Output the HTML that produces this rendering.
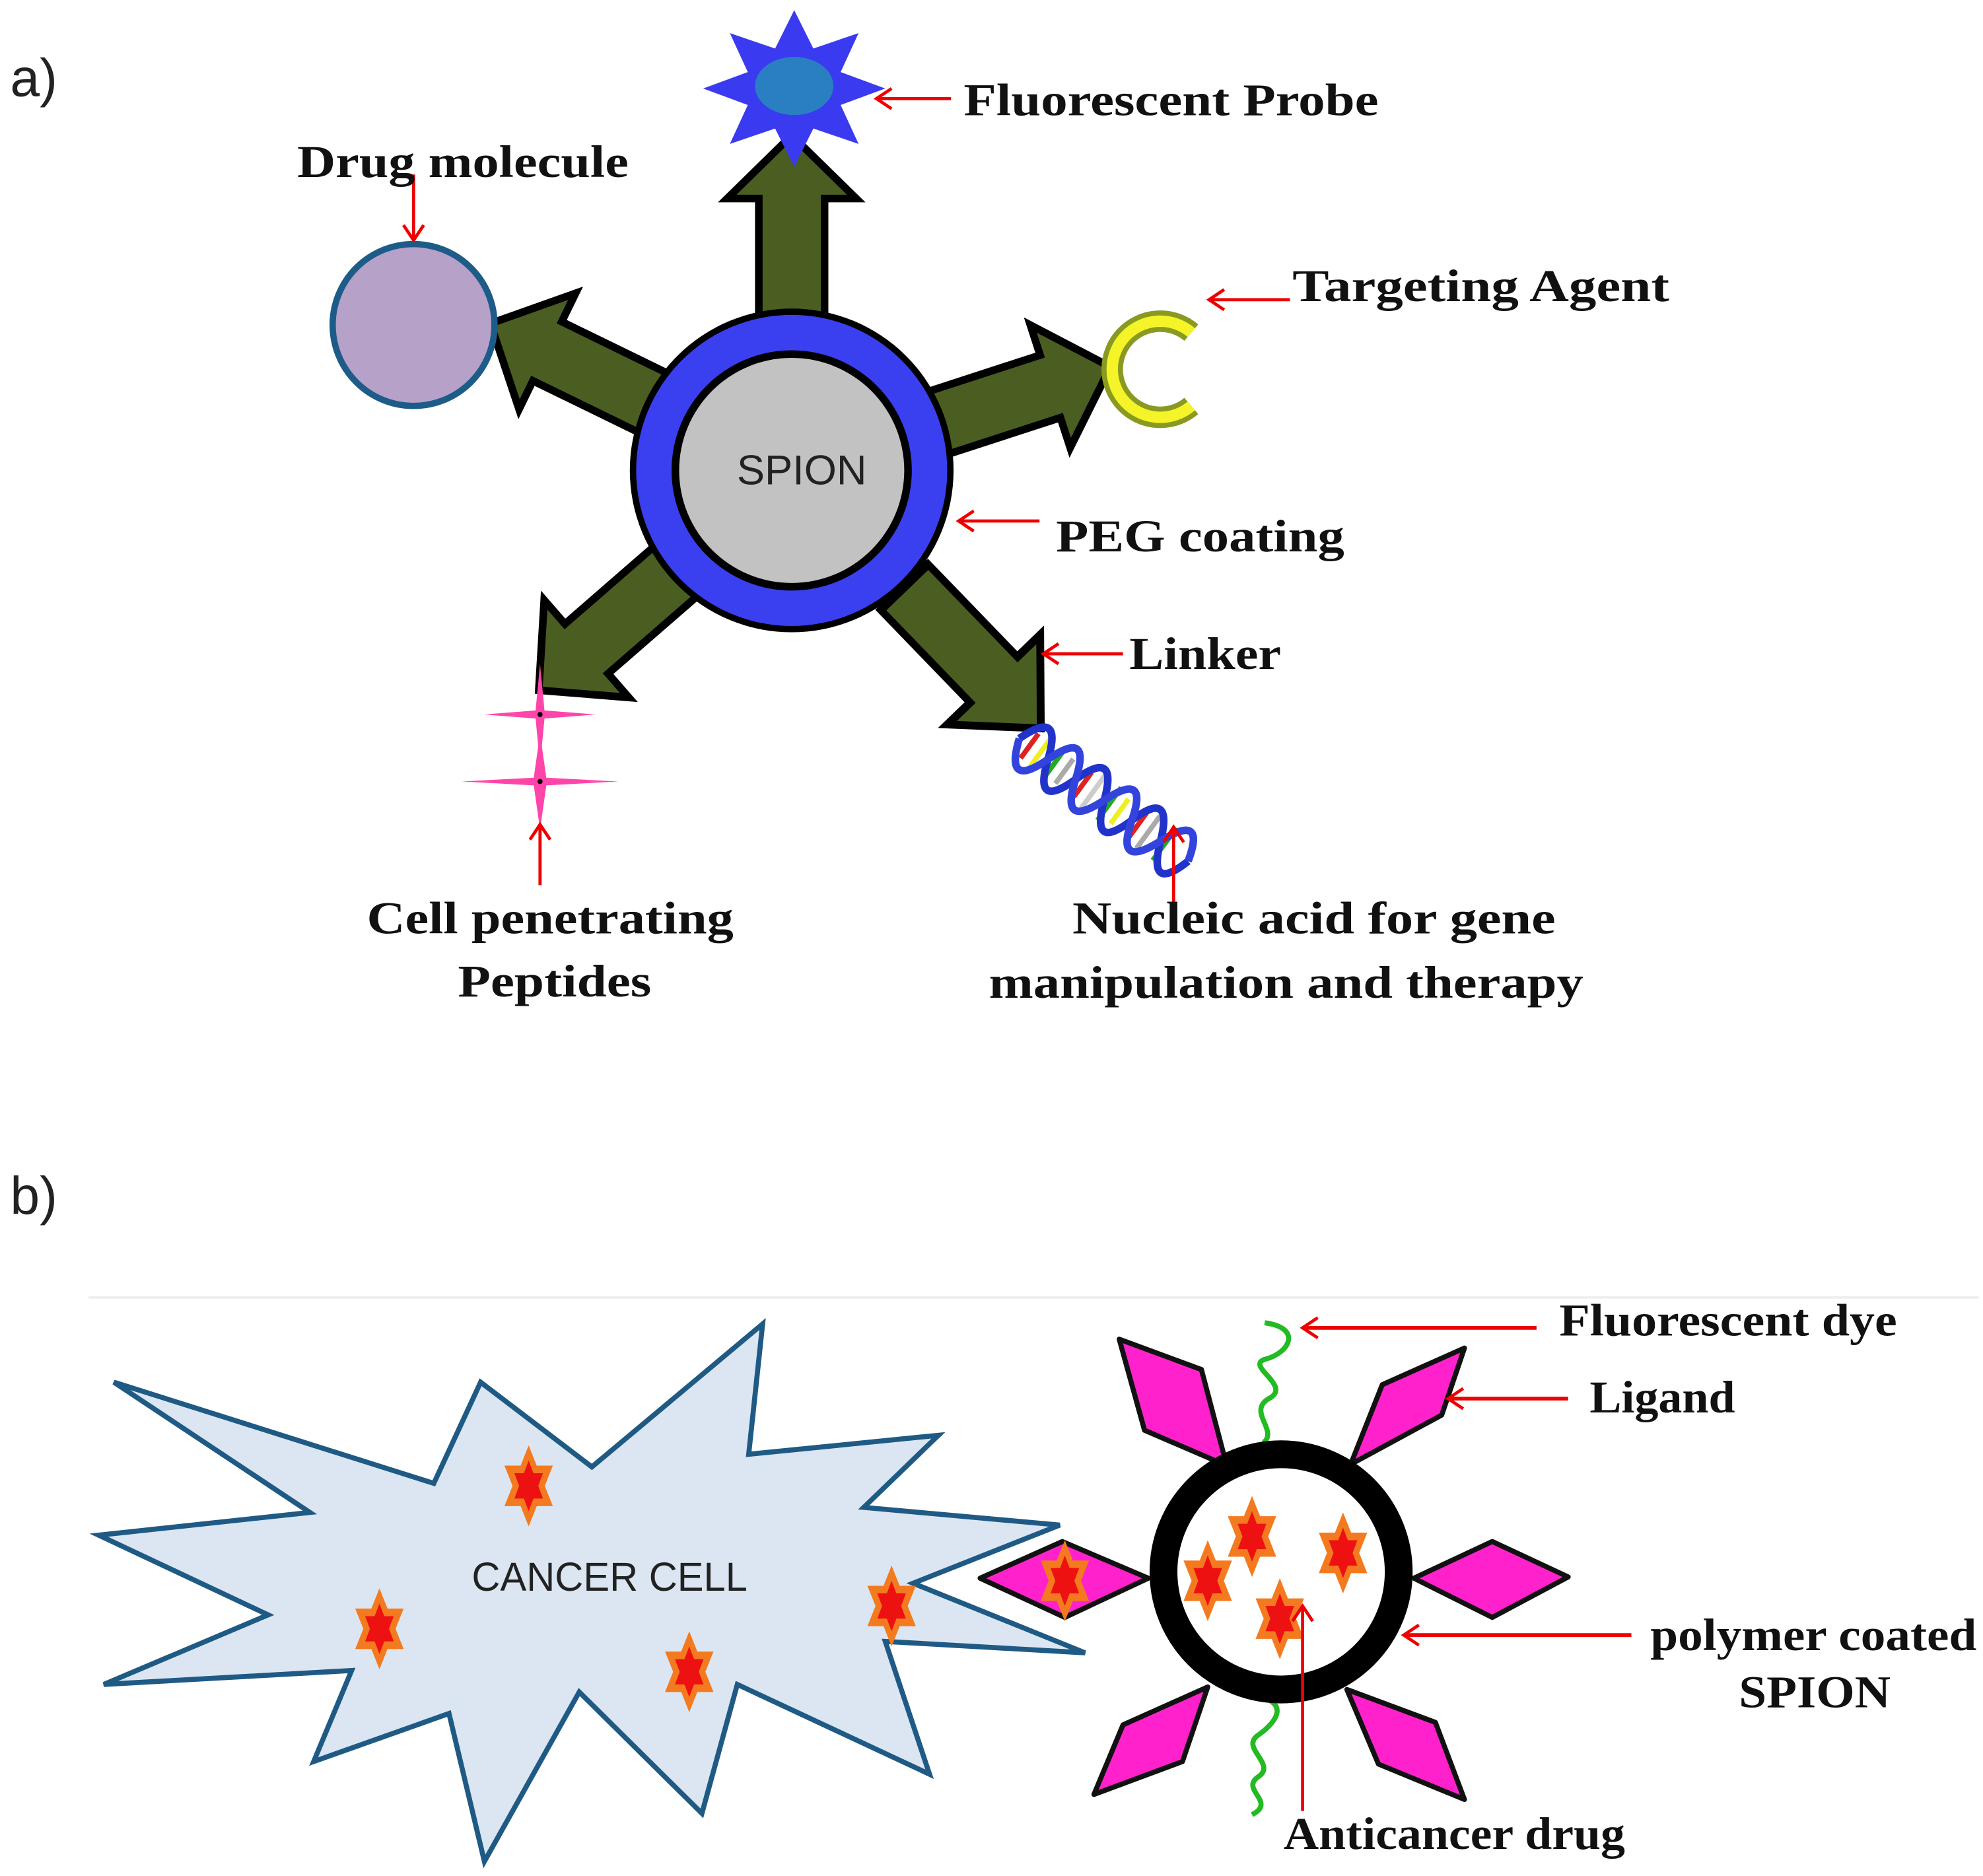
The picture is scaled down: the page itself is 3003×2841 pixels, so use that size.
<!DOCTYPE html>
<html><head><meta charset="utf-8"><style>
html,body{margin:0;padding:0;background:#fff}
svg{display:block}
.t{font-family:"Liberation Serif",serif;font-weight:bold;font-size:36px;fill:#111}
.s{font-family:"Liberation Sans",sans-serif;fill:#222}
</style></head><body>
<svg width="3003" height="2841" viewBox="0 0 1568 1483.5" xmlns="http://www.w3.org/2000/svg">
<defs>
<marker id="ah" viewBox="0 0 20 20" refX="16" refY="10" markerWidth="20" markerHeight="20" markerUnits="userSpaceOnUse" orient="auto">
<polyline points="4,2 16,10 4,18" fill="none" stroke="#e00" stroke-width="2.5"/>
</marker>
<g id="hex"><polygon points="0,-1 0.29,-0.5 0.87,-0.5 0.58,0 0.87,0.5 0.29,0.5 0,1 -0.29,0.5 -0.87,0.5 -0.58,0 -0.87,-0.5 -0.29,-0.5"/></g>
<polygon id="arr" points="-26,-120 -26,-215 -51,-215 0,-265 51,-215 26,-215 26,-120" fill="#4a5e22" stroke="#000" stroke-width="6" stroke-linejoin="miter"/>
</defs>

<text x="8" y="76" class="s" font-size="42" fill="#333">a)</text>

<g transform="translate(626,372)">
<use href="#arr"/>
<use href="#arr" transform="rotate(-64)"/>
<use href="#arr" transform="rotate(72)"/>
<use href="#arr" transform="rotate(229)"/>
<use href="#arr" transform="rotate(136) scale(1,1.07)"/>
</g>
<circle cx="626" cy="372" r="128" fill="#000"/>
<circle cx="626" cy="372" r="123" fill="#3a40f0"/>
<circle cx="626" cy="372" r="95" fill="#000"/>
<circle cx="626" cy="372" r="89" fill="#c2c2c2"/>
<text x="634" y="383" class="s" font-size="33" text-anchor="middle" fill="#111">SPION</text>

<polygon transform="translate(628,70) scale(72,62)" fill="#3a3af0" points="0,-1 0.21,-0.51 0.707,-0.707 0.51,-0.21 1,0 0.51,0.21 0.707,0.707 0.21,0.51 0,1 -0.21,0.51 -0.707,0.707 -0.51,0.21 -1,0 -0.51,-0.21 -0.707,-0.707 -0.21,-0.51"/>
<ellipse cx="628" cy="68" rx="31" ry="23" fill="#2a7fc2"/>
<line x1="752" y1="78" x2="693" y2="78" stroke="#e00" stroke-width="2.5" marker-end="url(#ah)"/>
<text x="762" y="91" class="t" textLength="328" lengthAdjust="spacingAndGlyphs">Fluorescent Probe</text>

<circle cx="327" cy="257" r="64" fill="#b6a1c9" stroke="#1d5c88" stroke-width="5"/>
<line x1="327" y1="138" x2="327" y2="190" stroke="#e00" stroke-width="2.5" marker-end="url(#ah)"/>
<text x="235" y="140" class="t" textLength="262" lengthAdjust="spacingAndGlyphs">Drug molecule</text>

<path d="M942,263 A38,38 0 1 0 942,321" fill="none" stroke="#8a9a20" stroke-width="17"/>
<path d="M942,263 A38,38 0 1 0 942,321" fill="none" stroke="#f4f428" stroke-width="9"/>
<line x1="1020" y1="237" x2="956" y2="237" stroke="#e00" stroke-width="2.5" marker-end="url(#ah)"/>
<text x="1022" y="238" class="t" textLength="298" lengthAdjust="spacingAndGlyphs">Targeting Agent</text>

<line x1="822" y1="412" x2="758" y2="412" stroke="#e00" stroke-width="2.5" marker-end="url(#ah)"/>
<text x="835" y="436" class="t" textLength="228" lengthAdjust="spacingAndGlyphs">PEG coating</text>
<line x1="888" y1="517" x2="825" y2="517" stroke="#e00" stroke-width="2.5" marker-end="url(#ah)"/>
<text x="893" y="529" class="t" textLength="120" lengthAdjust="spacingAndGlyphs">Linker</text>

<polygon transform="translate(427,565) scale(44,40)" fill="#ff44aa" points="0,-1 0.08,-0.08 1,0 0.08,0.08 0,1 -0.08,0.08 -1,0 -0.08,-0.08"/>
<polygon transform="translate(427,618) scale(62,38)" fill="#ff44aa" points="0,-1 0.08,-0.08 1,0 0.08,0.08 0,1 -0.08,0.08 -1,0 -0.08,-0.08"/>
<circle cx="427" cy="565" r="2" fill="#000"/><circle cx="427" cy="618" r="2" fill="#000"/>
<line x1="427" y1="700" x2="427" y2="652" stroke="#e00" stroke-width="2.5" marker-end="url(#ah)"/>
<text x="290" y="738" class="t" textLength="290" lengthAdjust="spacingAndGlyphs">Cell penetrating</text>
<text x="362" y="788" class="t" textLength="153" lengthAdjust="spacingAndGlyphs">Peptides</text>

<g transform="translate(806,584) rotate(36)">
<g stroke-width="4">
<line x1="10" y1="-12" x2="10" y2="12" stroke="#d22"/><line x1="20" y1="-16" x2="20" y2="16" stroke="#ee2"/>
<line x1="34" y1="-16" x2="34" y2="16" stroke="#2a2"/><line x1="44" y1="-12" x2="44" y2="12" stroke="#aaa"/>
<line x1="62" y1="-12" x2="62" y2="12" stroke="#d22"/><line x1="72" y1="-16" x2="72" y2="16" stroke="#ccc"/>
<line x1="88" y1="-16" x2="88" y2="16" stroke="#2a2"/><line x1="98" y1="-12" x2="98" y2="12" stroke="#ee2"/>
<line x1="116" y1="-12" x2="116" y2="12" stroke="#d22"/><line x1="126" y1="-16" x2="126" y2="16" stroke="#aaa"/>
<line x1="142" y1="-16" x2="142" y2="16" stroke="#2a2"/>
</g>
<path d="M0,0 Q14,-40 28,0 T55,0 T83,0 T110,0 T138,0 T165,0" fill="none" stroke="#2233cc" stroke-width="6"/>
<path d="M0,0 Q14,40 28,0 T55,0 T83,0 T110,0 T138,0 T165,0" fill="none" stroke="#3344dd" stroke-width="6"/>
</g>
<line x1="928" y1="720" x2="928" y2="654" stroke="#e00" stroke-width="2.5" marker-end="url(#ah)"/>
<text x="848" y="738" class="t" textLength="382" lengthAdjust="spacingAndGlyphs">Nucleic acid for gene</text>
<text x="782" y="789" class="t" textLength="470" lengthAdjust="spacingAndGlyphs">manipulation  and therapy</text>

<text x="8" y="960" class="s" font-size="42" fill="#333">b)</text>
<line x1="70" y1="1026" x2="1565" y2="1026" stroke="#eee" stroke-width="2"/>

<polygon fill="#dbe6f2" stroke="#1f5a85" stroke-width="4" stroke-linejoin="miter" points="90,1093 343,1173 380,1093 468,1160 603,1047 592,1150 742,1135 683,1192 838,1206 722,1252 858,1307 700,1298 735,1403 583,1332 555,1434 458,1338 383,1472 355,1355 248,1393 278,1321 82,1332 212,1277 78,1214 245,1196"/>
<text x="482" y="1258" class="s" font-size="32" text-anchor="middle" textLength="218" lengthAdjust="spacingAndGlyphs">CANCER CELL</text>

<g fill="#ff22cc" stroke="#111" stroke-width="4" stroke-linejoin="round">
<polygon points="775,1248 840,1219 908,1248 842,1279"/>
<polygon points="1118,1248 1180,1219 1240,1247 1180,1279"/>
<polygon points="885,1059 950,1083 970,1159 905,1131"/>
<polygon points="1158,1066 1140,1119 1068,1158 1093,1095"/>
<polygon points="955,1334 935,1393 865,1419 888,1364"/>
<polygon points="1065,1336 1135,1362 1158,1423 1090,1395"/>
</g>
<path d="M1000,1046 C1030,1050 1020,1070 1000,1075 C985,1080 1020,1095 1005,1105 C985,1115 1010,1130 1000,1140 C995,1148 1005,1150 1012,1150" fill="none" stroke="#22bb22" stroke-width="4"/>
<path d="M1000,1343 C1020,1350 1005,1365 995,1372 C980,1382 1010,1395 995,1405 C980,1415 1010,1425 990,1435" fill="none" stroke="#22bb22" stroke-width="4"/>

<circle cx="1013" cy="1243" r="93" fill="#fff" stroke="#000" stroke-width="22"/>

<g>
<g transform="translate(418,1175)"><use href="#hex" fill="#f47a20" transform="scale(22,32)"/><use href="#hex" fill="#ee1111" transform="scale(13,20)"/></g>
<g transform="translate(300,1288)"><use href="#hex" fill="#f47a20" transform="scale(22,32)"/><use href="#hex" fill="#ee1111" transform="scale(13,20)"/></g>
<g transform="translate(545,1322)"><use href="#hex" fill="#f47a20" transform="scale(22,32)"/><use href="#hex" fill="#ee1111" transform="scale(13,20)"/></g>
<g transform="translate(705,1270)"><use href="#hex" fill="#f47a20" transform="scale(22,32)"/><use href="#hex" fill="#ee1111" transform="scale(13,20)"/></g>
<g transform="translate(842,1250)"><use href="#hex" fill="#f47a20" transform="scale(22,32)"/><use href="#hex" fill="#ee1111" transform="scale(13,20)"/></g>
<g transform="translate(990,1215)"><use href="#hex" fill="#f47a20" transform="scale(22,32)"/><use href="#hex" fill="#ee1111" transform="scale(13,20)"/></g>
<g transform="translate(1062,1228)"><use href="#hex" fill="#f47a20" transform="scale(22,32)"/><use href="#hex" fill="#ee1111" transform="scale(13,20)"/></g>
<g transform="translate(955,1250)"><use href="#hex" fill="#f47a20" transform="scale(22,32)"/><use href="#hex" fill="#ee1111" transform="scale(13,20)"/></g>
<g transform="translate(1012,1280)"><use href="#hex" fill="#f47a20" transform="scale(22,32)"/><use href="#hex" fill="#ee1111" transform="scale(13,20)"/></g>
</g>

<line x1="1215" y1="1050" x2="1030" y2="1050" stroke="#e00" stroke-width="3" marker-end="url(#ah)"/>
<text x="1233" y="1056" class="t" textLength="267" lengthAdjust="spacingAndGlyphs">Fluorescent dye</text>
<line x1="1240" y1="1106" x2="1145" y2="1106" stroke="#e00" stroke-width="3" marker-end="url(#ah)"/>
<text x="1257" y="1117" class="t" textLength="115" lengthAdjust="spacingAndGlyphs">Ligand</text>
<line x1="1290" y1="1293" x2="1110" y2="1293" stroke="#e00" stroke-width="3" marker-end="url(#ah)"/>
<text x="1305" y="1305" class="t" textLength="258" lengthAdjust="spacingAndGlyphs">polymer coated</text>
<text x="1375" y="1350" class="t" textLength="120" lengthAdjust="spacingAndGlyphs">SPION</text>
<line x1="1030" y1="1432" x2="1030" y2="1270" stroke="#e00" stroke-width="2.5" marker-end="url(#ah)"/>
<text x="1015" y="1462" class="t" textLength="270" lengthAdjust="spacingAndGlyphs">Anticancer drug</text>
</svg>
</body></html>
